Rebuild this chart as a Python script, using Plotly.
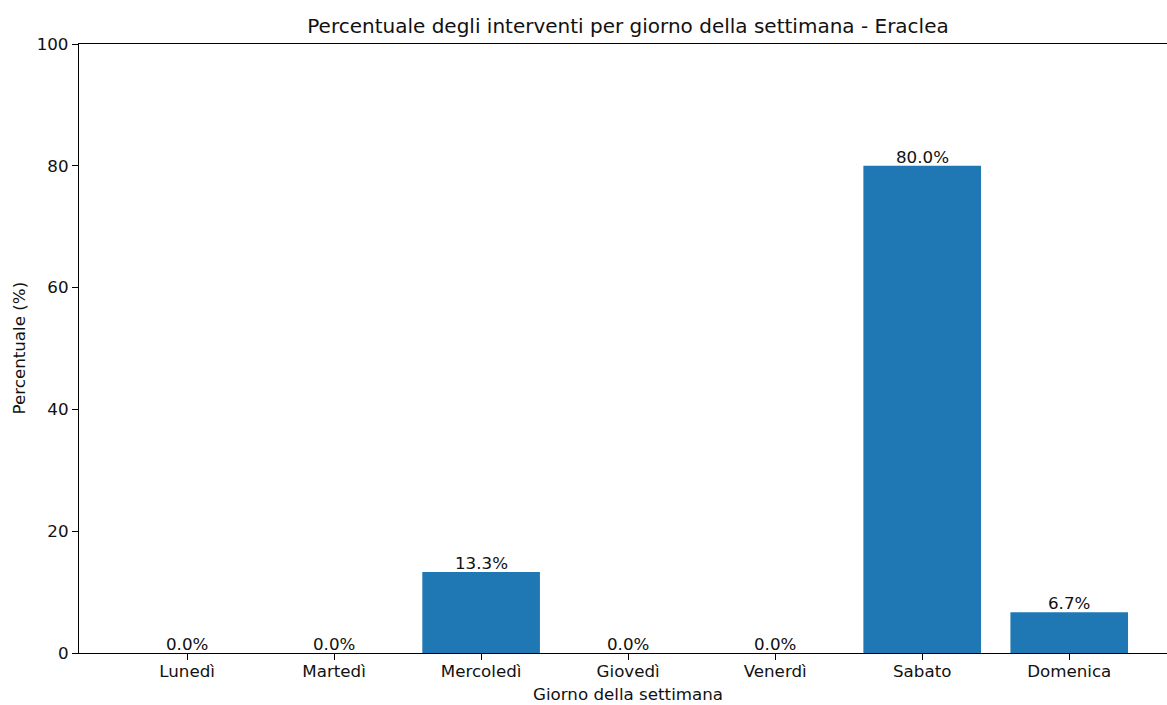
import plotly.graph_objects as go

# data
giorni = ["Lunedì", "Martedì", "Mercoledì", "Giovedì", "Venerdì", "Sabato", "Domenica"]
percentuali = [0.0, 0.0, 13.3, 0.0, 0.0, 80.0, 6.7]
y_ticks = [0, 20, 40, 60, 80, 100]

FONT = "DejaVu Sans"
BLUE = "#1f77b4"
TXT = "#111111"

W, H = 1167, 705
L, T, B = 79, 44, 52
PW, PH = W - L, H - T - B

fig = go.Figure()

fig.add_trace(go.Bar(
    x=list(range(len(giorni))),
    y=percentuali,
    width=0.8,
    marker={"color": BLUE, "line": {"width": 0}},
    hoverinfo="skip",
))

# value labels above each bar
for i, v in enumerate(percentuali):
    fig.add_annotation(x=i, y=v, text=f"{v:.1f}%", showarrow=False,
                       xanchor="center", yanchor="bottom", yshift=-3,
                       font={"size": 16.7, "color": TXT, "family": FONT})

# axis titles placed like matplotlib
fig.add_annotation(x=(628 - L) / PW, y=-(694 - 653) / PH, xref="paper", yref="paper",
                   text="Giorno della settimana", showarrow=False,
                   xanchor="center", yanchor="middle",
                   font={"size": 16.7, "color": TXT, "family": FONT})
fig.add_annotation(x=(18 - L) / PW, y=0.5, xref="paper", yref="paper",
                   text="Percentuale (%)", showarrow=False, textangle=-90,
                   xanchor="center", yanchor="middle",
                   font={"size": 16.7, "color": TXT, "family": FONT})

fig.update_layout(
    width=W,
    height=H,
    margin={"l": L, "r": 0, "t": T, "b": B, "pad": 0},
    paper_bgcolor="white",
    plot_bgcolor="white",
    showlegend=False,
    font={"family": FONT, "size": 16.7, "color": TXT},
    title={"text": "Percentuale degli interventi per giorno della settimana - Eraclea",
           "x": 628 / W, "xanchor": "center", "xref": "container",
           "y": 1 - 26 / H, "yanchor": "middle", "yref": "container",
           "font": {"size": 20, "color": TXT, "family": FONT}},
    xaxis={
        "range": [-0.735, 6.665],
        "tickmode": "array",
        "tickvals": list(range(len(giorni))),
        "ticktext": giorni,
        "ticks": "outside", "ticklen": 6, "tickwidth": 1.3, "tickcolor": "black",
        "ticklabelstandoff": -3,
        "showline": True, "linecolor": "black", "linewidth": 1.3, "mirror": True,
        "showgrid": False, "zeroline": False,
        "tickfont": {"size": 16.7},
    },
    yaxis={
        "range": [0, 100],
        "tickmode": "array",
        "tickvals": y_ticks,
        "ticks": "outside", "ticklen": 6, "tickwidth": 1.3, "tickcolor": "black",
        "showline": True, "linecolor": "black", "linewidth": 1.3,
        "showgrid": False, "zeroline": False,
        "tickfont": {"size": 16.7},
    },
)

# drop the page margin and scrollbars so the figure fills the window
fig.write_html("out.html",
               config={"displayModeBar": False},
               post_script="document.body.style.margin='0';document.body.style.overflow='hidden';")
